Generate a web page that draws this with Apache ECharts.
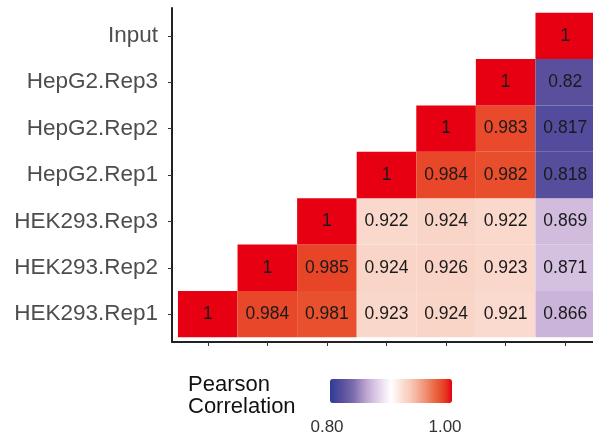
<!DOCTYPE html>
<html>
<head>
<meta charset="utf-8">
<script src="https://cdn.jsdelivr.net/npm/echarts@6/dist/echarts.min.js"></script>
<style>
  html, body { margin: 0; padding: 0; background: #fff; }
  #main { width: 593px; height: 440px; }
</style>
</head>
<body>
<div id="main"></div>
<script>
// 样本名（y 轴从下往上，x 轴从左往右同序）
const samples = ["HEK293.Rep1", "HEK293.Rep2", "HEK293.Rep3", "HepG2.Rep1", "HepG2.Rep2", "HepG2.Rep3", "Input"];

// 每一行的相关系数，null 为空白格
const corrHEK293Rep1 = [1, 0.984, 0.981, 0.923, 0.924, 0.921, 0.866];
const corrHEK293Rep2 = [null, 1, 0.985, 0.924, 0.926, 0.923, 0.871];
const corrHEK293Rep3 = [null, null, 1, 0.922, 0.924, 0.922, 0.869];
const corrHepG2Rep1 = [null, null, null, 1, 0.984, 0.982, 0.818];
const corrHepG2Rep2 = [null, null, null, null, 1, 0.983, 0.817];
const corrHepG2Rep3 = [null, null, null, null, null, 1, 0.82];
const corrInput = [null, null, null, null, null, null, 1];

// 图例
const legendTitle = "Pearson\nCorrelation";
const legendMin = 0.8;
const legendMax = 1.0;
const legendLabels = ["0.80", "1.00"];

// 颜色 0.80 -> 1.00，每 0.01 一档
const palette = [
  "#2f3a96", "#44469c", "#5a4f9d", "#6a5ea6", "#8070b0", "#a08cc0", "#bda6d0",
  "#d3bedf", "#e2d4ea", "#f1eaf4", "#ffffff", "#fdeee8", "#fadbd0", "#f8cdbd",
  "#f5b8a2", "#f29f85", "#ef8768", "#ec6c4a", "#e8532f", "#e73520", "#e60012"
];

const rows = [corrHEK293Rep1, corrHEK293Rep2, corrHEK293Rep3, corrHepG2Rep1, corrHepG2Rep2, corrHepG2Rep3, corrInput];
const cells = [];
rows.forEach((row, y) => {
  row.forEach((v, x) => {
    if (v !== null) cells.push([x, y, v]);
  });
});
const idx = samples.map((s, i) => i);

const FONT = "'Liberation Sans', Arial, sans-serif";
const Chart = echarts.init(document.getElementById("main"));

const options = {
  animation: false,
  grid: { left: 172, top: 8, width: 429, height: 334, outerBoundsMode: "none", containLabel: false },
  xAxis: {
    type: "value",
    min: -0.6,
    max: 6.6,
    axisLine: { show: true, onZero: false, lineStyle: { color: "#222", width: 2 } },
    axisTick: { show: true, customValues: idx, length: 4, lineStyle: { color: "#333", width: 1 } },
    axisLabel: { show: false },
    splitLine: { show: false }
  },
  yAxis: {
    type: "value",
    min: -0.6,
    max: 6.6,
    axisLine: { show: true, onZero: false, lineStyle: { color: "#222", width: 2 } },
    axisTick: { show: true, customValues: idx, length: 4, lineStyle: { color: "#333", width: 1 } },
    axisLabel: {
      customValues: idx,
      formatter: (v) => samples[Math.round(v)],
      fontFamily: FONT,
      fontSize: 22.5,
      color: "#4d4d4d",
      margin: 14
    },
    splitLine: { show: false }
  },
  visualMap: {
    type: "continuous",
    min: legendMin,
    max: legendMax,
    dimension: 2,
    seriesIndex: 0,
    orient: "horizontal",
    left: 315,
    top: 364,
    itemWidth: 24,
    itemHeight: 122,
    calculable: false,
    hoverLink: false,
    inRange: { color: palette }
  },
  graphic: [
    {
      type: "text",
      left: 188,
      top: 374,
      style: { text: legendTitle, font: "22px " + FONT, fill: "#111", lineHeight: 22 }
    },
    {
      type: "text",
      x: 327,
      y: 419,
      style: { text: legendLabels[0], font: "17px " + FONT, fill: "#333", align: "center" }
    },
    {
      type: "text",
      x: 445,
      y: 419,
      style: { text: legendLabels[1], font: "17px " + FONT, fill: "#333", align: "center" }
    }
  ],
  series: [
    {
      type: "custom",
      data: cells,
      encode: { x: 0, y: 1 },
      renderItem: function (params, api) {
        const c = api.coord([api.value(0), api.value(1)]);
        const s = api.size([1, 1]);
        return {
          type: "rect",
          shape: { x: c[0] - s[0] / 2, y: c[1] - s[1] / 2, width: s[0], height: s[1] },
          style: { fill: api.visual("color") },
          textContent: {
            style: { text: String(api.value(2)), font: "17.5px " + FONT, fill: "#1a1a1a" }
          },
          textConfig: { position: "inside" }
        };
      }
    }
  ]
};

Chart.setOption(options);
</script>
</body>
</html>
